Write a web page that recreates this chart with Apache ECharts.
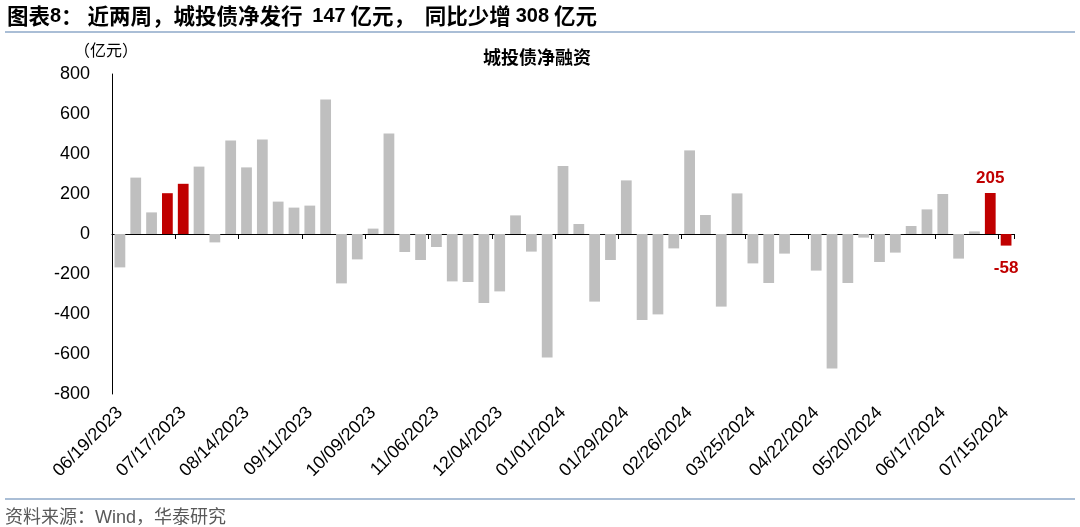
<!DOCTYPE html>
<html>
<head>
<meta charset="utf-8">
<script src="https://cdn.jsdelivr.net/npm/echarts@6/dist/echarts.min.js"></script>
<style>
html,body{margin:0;padding:0;background:#fff;}
#chart{width:1080px;height:527px;}
</style>
</head>
<body>
<div id="chart"></div>
<script>
// ---- data ----
const categories = [
  '06/19/2023','06/26/2023','07/03/2023','07/10/2023','07/17/2023','07/24/2023','07/31/2023','08/07/2023',
  '08/14/2023','08/21/2023','08/28/2023','09/04/2023','09/11/2023','09/18/2023','09/25/2023','10/02/2023',
  '10/09/2023','10/16/2023','10/23/2023','10/30/2023','11/06/2023','11/13/2023','11/20/2023','11/27/2023',
  '12/04/2023','12/11/2023','12/18/2023','12/25/2023','01/01/2024','01/08/2024','01/15/2024','01/22/2024',
  '01/29/2024','02/05/2024','02/12/2024','02/19/2024','02/26/2024','03/04/2024','03/11/2024','03/18/2024',
  '03/25/2024','04/01/2024','04/08/2024','04/15/2024','04/22/2024','04/29/2024','05/06/2024','05/13/2024',
  '05/20/2024','05/27/2024','06/03/2024','06/10/2024','06/17/2024','06/24/2024','07/01/2024','07/08/2024',
  '07/15/2024'
];
const netFinancing = [
  -167, 282, 108, 204, 251, 337, -42, 467,
  333, 473, 162, 132, 142, 672, -247, -127,
  27, 502, -90, -130, -65, -237, -240, -345,
  -287, 93, -88, -618, 340, 50, -338, -130,
  268, -430, -402, -72, 418, 95, -363, 203,
  -147, -245, -98, 0, -183, -672, -245, -18,
  -140, -93, 40, 123, 200, -123, 13, 205,
  -58
];
const highlightIdx = [3, 4, 55, 56];   // 同期与近两周
const labelIdx = [55, 56];             // 标注数值
const yTicks = { min: -800, max: 800, interval: 200 };
const titleText = '图表{n|8}： 近两周，城投债净发行  {n|147} 亿元，  同比少增 {n|308} 亿元';
const chartTitle = '城投债净融资';
const unitText = '（亿元）';
const sourceText = '资料来源：Wind，华泰研究';

// ---- chart ----
const GREY = '#BFBFBF', RED = '#C00000';
const seriesData = netFinancing.map((v, i) => {
  const item = { value: v, itemStyle: { color: highlightIdx.includes(i) ? RED : GREY } };
  if (labelIdx.includes(i)) {
    item.label = {
      show: true, position: v >= 0 ? 'top' : 'bottom', distance: v >= 0 ? 6 : 14,
      color: RED, fontWeight: 'bold', fontSize: 17, fontFamily: 'Liberation Sans, Arial'
    };
  }
  return item;
});

const chart = echarts.init(document.getElementById('chart'), null, { renderer: 'canvas' });
chart.setOption({
  animation: false,
  backgroundColor: '#fff',
  grid: { left: 112, right: 66, top: 74, bottom: 133, containLabel: false },
  xAxis: [
    {
      type: 'category', data: categories, boundaryGap: true,
      axisLine: { show: true, onZero: true, lineStyle: { color: '#000', width: 1 } },
      axisTick: { show: true, interval: 3, length: 5, lineStyle: { color: '#000' } },
      axisLabel: { show: false }, splitLine: { show: false }
    },
    {
      type: 'category', data: categories, boundaryGap: true, position: 'bottom',
      axisLine: { show: false, onZero: false }, axisTick: { show: false },
      axisLabel: {
        show: true, interval: 3, rotate: 45, margin: 16, padding: [17, 0, 0, 0], color: '#000',
        fontSize: 18, fontFamily: 'Liberation Sans, Arial'
      },
      splitLine: { show: false }
    }
  ],
  yAxis: {
    type: 'value', min: yTicks.min, max: yTicks.max, interval: yTicks.interval,
    axisLine: { show: true, lineStyle: { color: '#000', width: 1 } },
    axisTick: { show: false },
    axisLabel: { color: '#000', fontSize: 18, margin: 22, fontFamily: 'Liberation Sans, Arial' },
    splitLine: { show: false }
  },
  series: [{
    type: 'bar', xAxisIndex: 0, data: seriesData, barWidth: '68%'
  }],
  graphic: [
    { type: 'text', x: 7, y: 16, style: { text: titleText, fontSize: 21.5, fontWeight: 'bold',
      fontFamily: 'Noto Sans CJK SC', fill: '#000', verticalAlign: 'middle',
      rich: { n: { fontSize: 20, fontWeight: 'bold', fontFamily: 'Liberation Sans, Arial', fill: '#000',
        verticalAlign: 'middle' } } } },
    { type: 'line', shape: { x1: 5, y1: 32, x2: 1075, y2: 32 }, style: { stroke: '#8EA9C9', lineWidth: 1.5 } },
    { type: 'text', x: 537, y: 57, style: { text: chartTitle, fontSize: 18, fontWeight: 'bold',
      fontFamily: 'Noto Sans CJK SC', fill: '#000', align: 'center', verticalAlign: 'middle' } },
    { type: 'text', x: 74, y: 50, style: { text: unitText, fontSize: 16,
      fontFamily: 'Noto Sans CJK SC', fill: '#000', verticalAlign: 'middle' } },
    { type: 'line', shape: { x1: 5, y1: 499, x2: 1075, y2: 499 }, style: { stroke: '#8EA9C9', lineWidth: 1.5 } },
    { type: 'text', x: 5, y: 518, style: { text: sourceText, fontSize: 18,
      fontFamily: 'Liberation Sans, Noto Sans CJK SC', fill: '#595959', verticalAlign: 'middle' } }
  ]
});
</script>
</body>
</html>
